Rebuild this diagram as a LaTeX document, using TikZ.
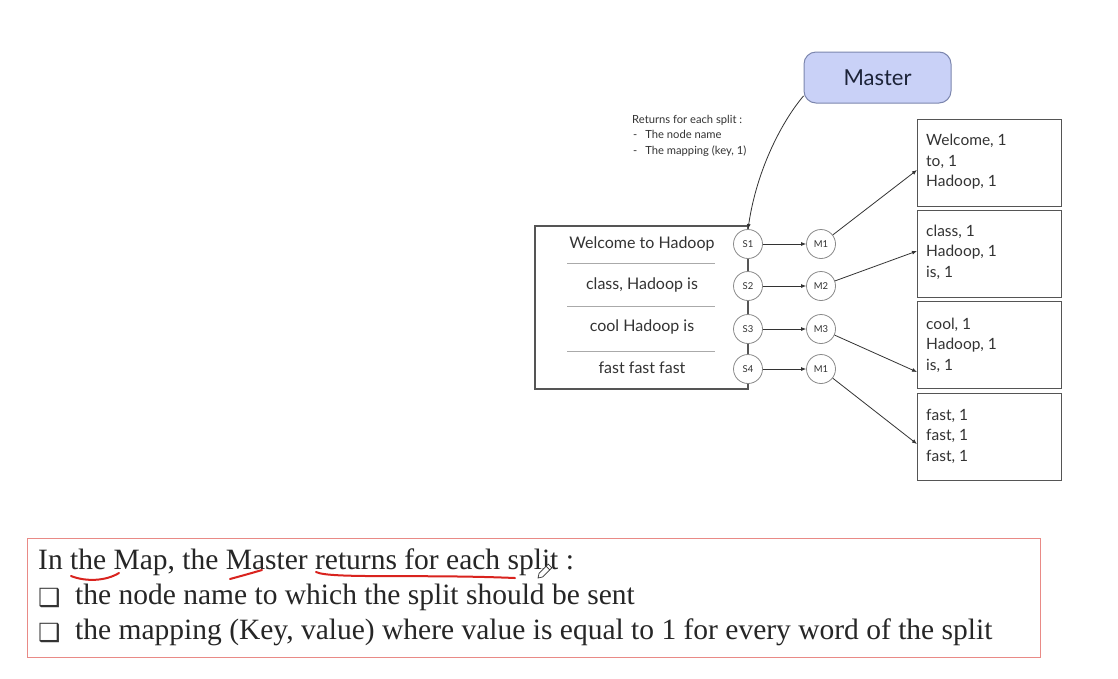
\documentclass[tikz,border=0pt]{standalone}
\usepackage{fontspec}
\setmainfont{Liberation Serif}
\newfontfamily\diag{Lato}
\newfontfamily\sym{DejaVu Sans}
\usetikzlibrary{arrows.meta}
\definecolor{masterfill}{HTML}{C9D1F7}
\definecolor{masterdraw}{HTML}{7C86AE}
\definecolor{mastertext}{HTML}{1C2338}
\definecolor{boxline}{HTML}{555555}
\definecolor{sepline}{HTML}{AAAAAA}
\definecolor{circline}{HTML}{8A8A8A}
\definecolor{txt}{HTML}{333333}
\definecolor{redframe}{HTML}{E98A86}
\definecolor{redink}{HTML}{D9231E}
\begin{document}
\begin{tikzpicture}[x=1pt,y=-1pt,
  master/.style={draw=masterdraw, fill=masterfill, rounded corners=12pt, line width=1pt,
    minimum width=147pt, minimum height=51pt, inner sep=0pt,
    font=\diag\fontsize{22}{26}\selectfont, text=mastertext},
  note/.style={anchor=north west, align=left, inner sep=0pt,
    font=\diag\fontsize{11.2}{15.5}\selectfont, text=txt},
  splittext/.style={font=\diag\fontsize{16}{19}\selectfont, text=txt, inner sep=0pt},
  splitcirc/.style={circle, draw=circline, fill=white, line width=0.8pt, minimum size=29pt,
    inner sep=0pt, font=\diag\fontsize{9.5}{11}\selectfont, text=txt},
  outbox/.style={draw=boxline, line width=1.1pt, minimum width=144pt, minimum height=87pt,
    anchor=north west, inner sep=0pt},
  outtext/.style={anchor=west, align=left, inner sep=0pt,
    font=\diag\fontsize{15.5}{20.5}\selectfont, text=txt},
  flow/.style={draw=txt, line width=0.8pt, -{Latex[length=5pt,width=4pt]}},
  sep/.style={draw=sepline, line width=1pt},
  bodytext/.style={anchor=west, inner sep=0pt, font=\fontsize{29.5}{32}\selectfont, text=black!85},
  checkbox/.style={anchor=west, inner sep=0pt, font=\sym\fontsize{25}{26}\selectfont, text=black!80},
  underline/.style={draw=redink, line width=2pt, line cap=round}
]
\useasboundingbox (0,0) rectangle (1118,678);
\fill[white] (0,0) rectangle (1118,678);

% Master
\node[master] (master) at (877.5,77.5) {Master};
\node[note] (notes) at (632,115) {Returns for each split :\\
\hspace*{1pt}-\hspace{8pt}The node name\\
\hspace*{1pt}-\hspace{8pt}The mapping (key, 1)};

% big input box
\draw[draw=boxline, line width=1.1pt] (748,226) -- (535,226) -- (535,389) -- (748,389) -- cycle;
\draw[sep] (567,263) -- (715,263);
\draw[sep] (567,306) -- (715,306);
\draw[sep] (567,351) -- (715,351);
\node[splittext] (w1) at (642,244) {Welcome to Hadoop};
\node[splittext] (w2) at (642,285) {class, Hadoop is};
\node[splittext] (w3) at (642,327) {cool Hadoop is};
\node[splittext] (w4) at (642,368) {fast fast fast};

% split circles
\node[splitcirc] (s1) at (748,244) {S1};
\node[splitcirc] (s2) at (748,286) {S2};
\node[splitcirc] (s3) at (748,329) {S3};
\node[splitcirc] (s4) at (748,369) {S4};

% mapper circles
\node[splitcirc] (m1) at (821,244) {M1};
\node[splitcirc] (m2) at (821,286) {M2};
\node[splitcirc] (m3) at (821,329) {M3};
\node[splitcirc] (m4) at (821,369) {M1};

\draw[flow] (s1) -- (m1);
\draw[flow] (s2) -- (m2);
\draw[flow] (s3) -- (m3);
\draw[flow] (s4) -- (m4);

% master curve
\draw[flow] (master.194) .. controls (783,120) and (757,168) .. (s1.north);

% output boxes
\node[outbox] (b1) at (917,119) {};
\node[outbox] (b2) at (917,210) {};
\node[outbox] (b3) at (917,301) {};
\node[outbox] (b4) at (917,393) {};
\node[outtext] (o1) at (926,162) {Welcome, 1\\to, 1\\Hadoop, 1};
\node[outtext] (o2) at (926,252) {class, 1\\Hadoop, 1\\is, 1};
\node[outtext] (o3) at (926,345) {cool, 1\\Hadoop, 1\\is, 1};
\node[outtext] (o4) at (926,436) {fast, 1\\fast, 1\\fast, 1};

\coordinate (t1) at (917,170);
\coordinate (t2) at (917,251);
\coordinate (t3) at (917,372);
\coordinate (t4) at (917,444);
\draw[flow] (m1) -- (t1);
\draw[flow] (m2) -- (t2);
\draw[flow] (m3) -- (t3);
\draw[flow] (m4) -- (t4);

% bottom explanation
\node[draw=redframe, line width=1pt, minimum width=1013pt, minimum height=119pt, anchor=north west, inner sep=0pt] (frame) at (27,538) {};
\node[bodytext] (l1) at (38,562) {In the Map, the Master returns for each split :};
\node[checkbox] (c2) at (38,598) {❑};
\node[bodytext] (l2) at (75,597) {the node name to which the split should be sent};
\node[checkbox] (c3) at (38,633) {❑};
\node[bodytext] (l3) at (75,632) {the mapping (Key, value) where value is equal to 1 for every word of the split};

% red hand-drawn underlines
\draw[underline] (71,576) .. controls (86,582) and (106,581) .. (119,573);
\draw[underline] (230,579) .. controls (241,576) and (252,573) .. (262,570);
\draw[underline] (316,572) .. controls (330,579) and (420,574) .. (515,578);

% pen cursor
\begin{scope}[shift={(538,578)}, rotate=45]
  \draw[black!80, fill=white, line width=0.7pt] (0,0) -- (4,-2.5) -- (17,-2.5) -- (17,2.5) -- (4,2.5) -- cycle;
  \draw[black!80, line width=0.7pt] (14,-2.5) -- (14,2.5);
\end{scope}
\end{tikzpicture}
\end{document}
